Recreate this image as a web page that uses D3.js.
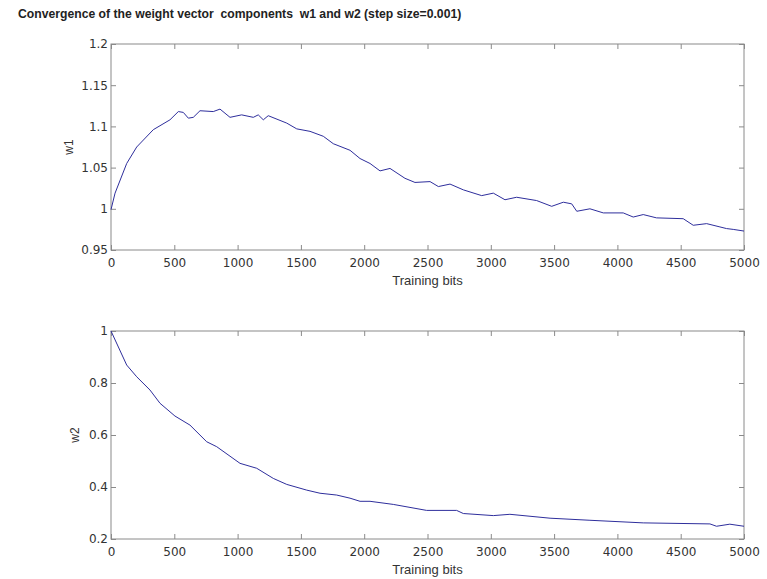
<!DOCTYPE html>
<html>
<head>
<meta charset="utf-8">
<script src="https://cdn.jsdelivr.net/npm/d3@7"></script>
<style>
  body { margin: 0; background: #fff; }
  svg text { font-family: "Liberation Sans", Arial, sans-serif; fill: #333; }
  .title { font-size: 12.2px; font-weight: bold; white-space: pre; fill: #222; }
  .tick-label { font-family: "DejaVu Sans", sans-serif !important; font-size: 12px; }
  .axis-label { font-size: 13px; }
  .y-label { font-size: 12px; }
</style>
</head>
<body>
<svg id="chart" width="767" height="579"></svg>
<script>
/*** DATA ***/

let title_text = "Convergence of the weight vector  components  w1 and w2 (step size=0.001)";

let x_ticks = [0, 500, 1000, 1500, 2000, 2500, 3000, 3500, 4000, 4500, 5000];
let w1_ticks = [0.95, 1, 1.05, 1.1, 1.15, 1.2];
let w2_ticks = [0.2, 0.4, 0.6, 0.8, 1];

// w1 (training bit, value)
let w1_bits = [0, 32, 124, 203, 334, 466, 532, 571, 611, 650, 703, 808, 861, 940, 1032, 1124, 1163, 1203, 1242,
    1388, 1467, 1572, 1677, 1756, 1888, 1967, 2046, 2125, 2204, 2322, 2401, 2520, 2586, 2678, 2783, 2928, 3020,
    3112, 3204, 3362, 3481, 3573, 3639, 3679, 3783, 3889, 4046, 4125, 4204, 4309, 4520, 4599, 4705, 4810, 4862, 4915, 5000];
let w1_vals = [0.999, 1.019, 1.055, 1.075, 1.096, 1.108, 1.118, 1.117, 1.110, 1.111, 1.119, 1.118, 1.121, 1.111, 1.114, 1.111, 1.114, 1.108, 1.113,
    1.104, 1.097, 1.094, 1.088, 1.079, 1.071, 1.061, 1.055, 1.046, 1.049, 1.037, 1.032, 1.033, 1.027, 1.030, 1.023, 1.016, 1.019,
    1.011, 1.014, 1.010, 1.003, 1.008, 1.006, 0.997, 1.000, 0.995, 0.995, 0.990, 0.993, 0.989, 0.988, 0.980, 0.982, 0.978, 0.976, 0.975, 0.973];

// w2
let w2_bits = [0, 124, 203, 308, 387, 505, 624, 756, 835, 1019, 1151, 1282, 1388, 1546, 1651, 1783, 1888, 1967,
    2046, 2230, 2493, 2730, 2783, 3020, 3151, 3468, 3783, 4204, 4731, 4783, 4888, 5000];
let w2_vals = [1.0, 0.869, 0.824, 0.773, 0.722, 0.673, 0.638, 0.574, 0.555, 0.491, 0.472, 0.433, 0.410, 0.388, 0.376, 0.369, 0.357, 0.345,
    0.345, 0.333, 0.310, 0.310, 0.298, 0.290, 0.295, 0.280, 0.272, 0.262, 0.258, 0.249, 0.257, 0.249];

/*** LAYOUT ***/

let svg = d3.select("#chart");

let plot_left = 111,
    plot_right = 744,
    tick_len = 5;

let panels = [
    {top: 44, bottom: 250, ticks: w1_ticks, label: "w1", label_x: 73, bits: w1_bits, vals: w1_vals},
    {top: 331, bottom: 539, ticks: w2_ticks, label: "w2", label_x: 79, bits: w2_bits, vals: w2_vals}
];

svg.append("text")
    .classed("title", true)
    .attr("x", 18)
    .attr("y", 18)
    .text(title_text);

function draw_panel(p) {
    let x = d3.scaleLinear().domain([0, 5000]).range([plot_left, plot_right]),
        y = d3.scaleLinear().domain(d3.extent(p.ticks)).range([p.bottom, p.top]);

    let g = svg.append("g");

    // frame
    g.append("rect")
        .attr("x", plot_left)
        .attr("y", p.top)
        .attr("width", plot_right - plot_left)
        .attr("height", p.bottom - p.top)
        .attr("fill", "none")
        .attr("stroke", "#8a8a8a")
        .attr("stroke-width", 1);

    // inward ticks on all four sides, labels only bottom and left
    let axes = [
        {axis: d3.axisBottom(x).tickValues(x_ticks), tr: [0, p.bottom], labels: true, pad: 8},
        {axis: d3.axisTop(x).tickValues(x_ticks), tr: [0, p.top], labels: false, pad: 3},
        {axis: d3.axisLeft(y).tickValues(p.ticks), tr: [plot_left, 0], labels: true, pad: 3},
        {axis: d3.axisRight(y).tickValues(p.ticks), tr: [plot_right, 0], labels: false, pad: 3}
    ];

    axes.forEach((a) => {
        let ag = g.append("g")
            .attr("transform", "translate(" + a.tr[0] + "," + a.tr[1] + ")")
            .call(a.axis.tickSizeInner(-tick_len).tickSizeOuter(0).tickPadding(a.pad).tickFormat(d3.format("~g")));
        ag.attr("font-size", null).attr("font-family", null);
        ag.select(".domain").remove();
        ag.selectAll(".tick line").attr("stroke", "#8a8a8a");
        ag.selectAll(".tick text")
            .attr("class", "tick-label")
            .attr("fill", "#333");
        if (!a.labels) ag.selectAll(".tick text").remove();
    });

    let line = d3.line()
        .x((d, i) => x(p.bits[i]))
        .y((d) => y(d));

    g.append("path")
        .datum(p.vals)
        .attr("d", line)
        .attr("fill", "none")
        .attr("stroke", "#2e2e9c")
        .attr("stroke-width", 1);

    g.append("text")
        .classed("axis-label", true)
        .attr("text-anchor", "middle")
        .attr("x", (plot_left + plot_right) / 2)
        .attr("y", p.bottom + 35)
        .text("Training bits");

    g.append("text")
        .classed("y-label", true)
        .attr("text-anchor", "middle")
        .attr("transform", "translate(" + p.label_x + "," + (p.top + p.bottom) / 2 + ") rotate(-90)")
        .text(p.label);
}

panels.forEach(draw_panel);
</script>
</body>
</html>
